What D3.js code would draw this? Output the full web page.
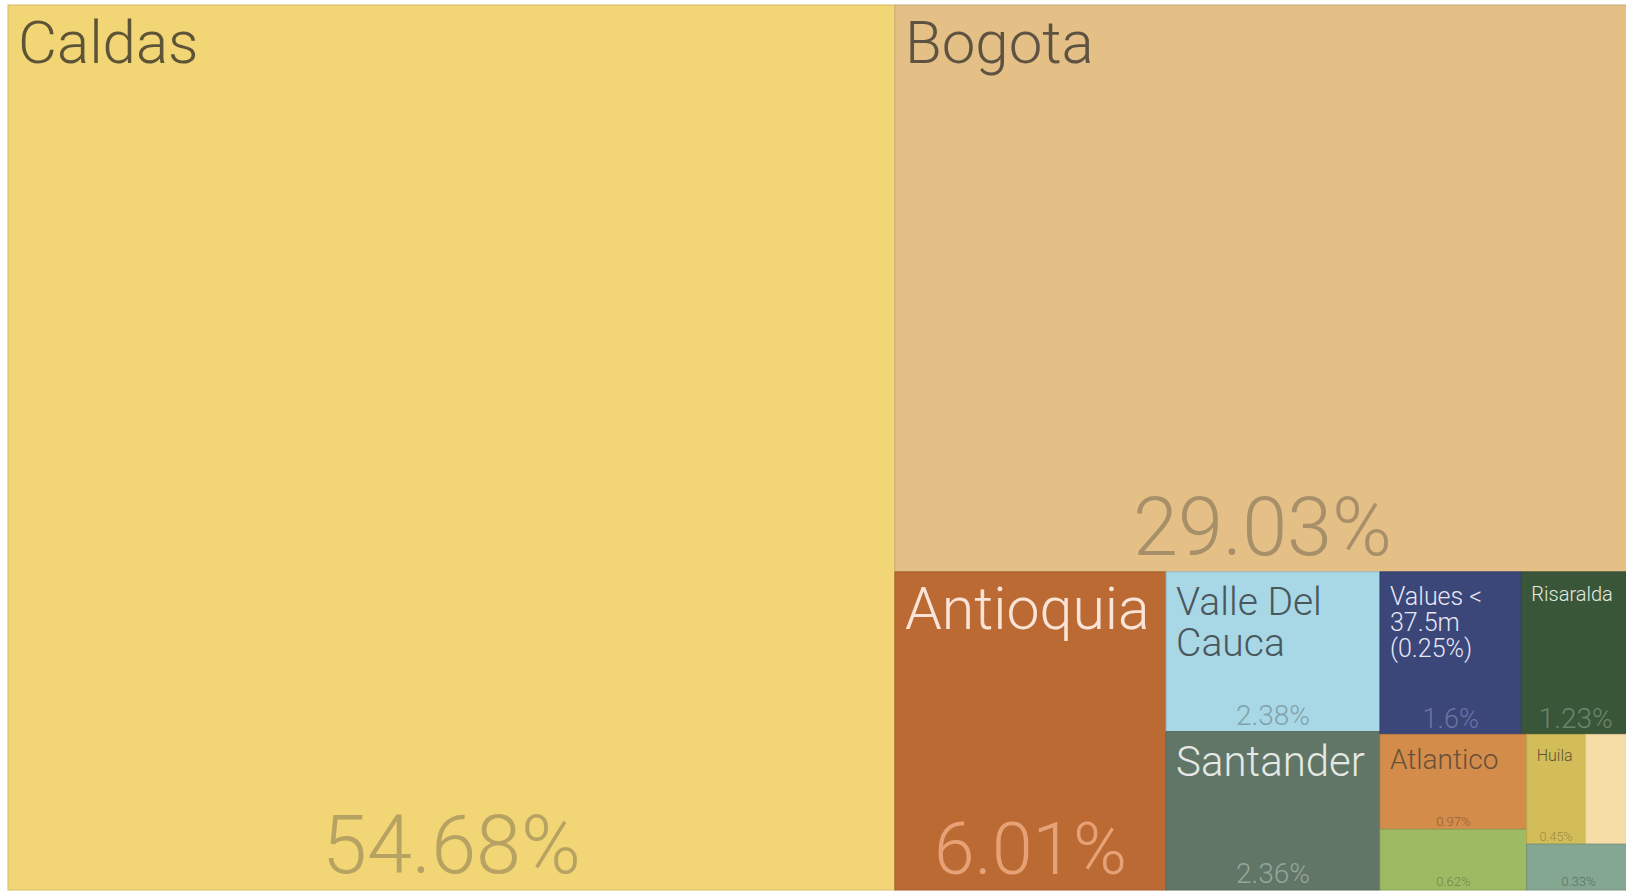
<!DOCTYPE html>
<html>
<head>
<meta charset="utf-8">
<script src="https://cdn.jsdelivr.net/npm/d3@7"></script>
<style>
  html, body { margin: 0; padding: 0; background: #ffffff; overflow: hidden; }
  svg { display: block; }
  text { font-family: Roboto, "Liberation Sans", sans-serif; font-weight: 300; }
</style>
</head>
<body>
<svg id="chart" width="1626" height="891"></svg>
<script>
// ---- data ----
const regions = ["Caldas", "Bogota", "Antioquia", "Valle Del Cauca", "Santander",
                 "Values < 37.5m (0.25%)", "Risaralda", "Atlantico", "r9", "Huila", "r11", "r12"];
const regionLabels = ["Caldas", "Bogota", "Antioquia", "Valle Del Cauca", "Santander",
                      "Values < 37.5m (0.25%)", "Risaralda", "Atlantico", "", "Huila", "", ""];
const sharePct = [54.68, 29.03, 6.01, 2.38, 2.36, 1.6, 1.23, 0.97, 0.62, 0.45, 0.34, 0.33];
const shareLabels = ["54.68%", "29.03%", "6.01%", "2.38%", "2.36%", "1.6%", "1.23%", "0.97%", "0.62%", "0.45%", "", "0.33%"];

// ---- styles ----
const fillColors = ["#f2d574", "#e4c086", "#bb6a33", "#a8d7e6", "#617666", "#3b4679",
                    "#3a5639", "#d38c4a", "#9ebb64", "#d3bd58", "#f6dda6", "#83a790"];
const labelFontPx = [60, 60, 59, 39, 42, 25, 20, 28, 0, 16, 0, 0];
const shareFontPx = [81, 81, 73, 28, 28, 27, 28, 13, 13, 12.5, 0, 13];

const area = { x: 8, y: 5, w: 1622, h: 885 };
const PAD = 10, TOP = 15, CAP = 0.711, LINE = 1.05;

const svg = d3.select("#chart");

const root = d3.hierarchy({
  children: regions.map((r, i) => ({ name: r, idx: i, value: sharePct[i] }))
}).sum(d => d.value || 0).sort((a, b) => b.value - a.value);

d3.treemap().tile(d3.treemapSquarify).size([area.w, area.h])(root);

const g = svg.append("g").attr("transform", `translate(${area.x},${area.y})`);

const cells = g.selectAll("g.cell").data(root.leaves()).join("g").attr("class", "cell");

function isDark(c) { return d3.lab(c).l < 58; }

cells.append("rect")
  .attr("x", d => d.x0).attr("y", d => d.y0)
  .attr("width", d => d.x1 - d.x0).attr("height", d => d.y1 - d.y0)
  .attr("fill", d => fillColors[d.data.idx])
  .attr("stroke", d => d3.color(fillColors[d.data.idx]).darker(0.35))
  .attr("stroke-width", 1);

function labelColor(c) {
  const l = d3.lab(c);
  return isDark(c) ? d3.lab(92, l.a * 0.2, l.b * 0.2).formatHex()
                   : d3.lab(36, l.a * 0.35, l.b * 0.35).formatHex();
}
function shareColor(c) {
  const l = d3.lab(c);
  return isDark(c) ? d3.lab(l.l + 19, l.a * 0.75, l.b * 0.75).formatHex()
                   : d3.lab(l.l - 19, l.a * 0.7, l.b * 0.7).formatHex();
}

// titles with word wrap
cells.each(function (d) {
  const i = d.data.idx;
  const txt = regionLabels[i];
  const fs = labelFontPx[i];
  if (!txt || !fs) return;
  const c = fillColors[i];
  const maxW = (d.x1 - d.x0) - 2 * PAD;
  const t = d3.select(this).append("text")
    .attr("x", d.x0 + PAD)
    .attr("y", d.y0 + TOP + CAP * fs)
    .attr("font-size", fs)
    .attr("fill", labelColor(c));
  const words = txt.split(" ");
  let line = [];
  let tspan = t.append("tspan").attr("x", d.x0 + PAD).attr("dy", 0);
  words.forEach(w => {
    line.push(w);
    tspan.text(line.join(" "));
    if (tspan.node().getComputedTextLength() > maxW && line.length > 1) {
      line.pop();
      tspan.text(line.join(" "));
      line = [w];
      tspan = t.append("tspan").attr("x", d.x0 + PAD).attr("dy", LINE * fs).text(w);
    }
  });
});

// share values, centered at bottom
cells.each(function (d) {
  const i = d.data.idx;
  const fs = shareFontPx[i];
  if (!shareLabels[i] || !fs) return;
  d3.select(this).append("text")
    .attr("x", (d.x0 + d.x1) / 2)
    .attr("y", d.y1 - 0.2 * fs - 1)
    .attr("text-anchor", "middle")
    .attr("font-size", fs)
    .attr("fill", shareColor(fillColors[i]))
    .text(shareLabels[i]);
});
</script>
</body>
</html>
